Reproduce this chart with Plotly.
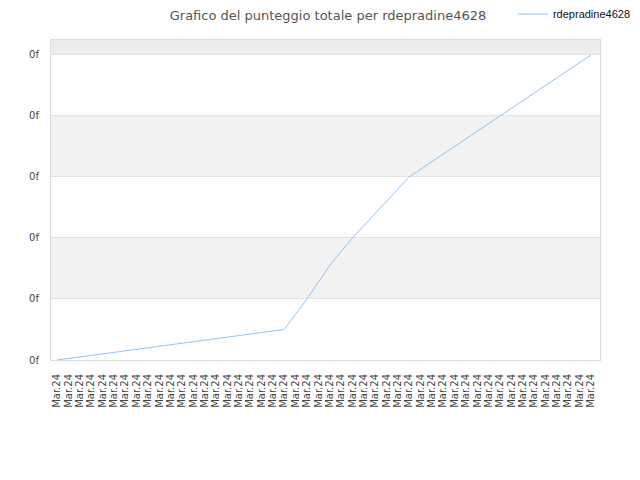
import plotly.graph_objects as go

# 48 points, all labelled with the same date
date_labels = ["Mar.24"] * 48
score = [0, 0.5, 1, 1.5, 2, 2.5, 3, 3.5, 4, 4.5,
         5, 5.5, 6, 6.5, 7, 7.5, 8, 8.5, 9, 9.5,
         10, 15, 20, 25.5, 31, 35.5, 40, 44, 48, 52,
         56, 60, 62.5, 65, 67.5, 70, 72.5, 75, 77.5, 80,
         82.5, 85, 87.5, 90, 92.5, 95, 97.5, 100]
y_ticks = [0, 20, 40, 60, 80, 100]
y_tick_text = ["0f"] * 6

x_idx = list(range(len(date_labels)))
y_top = 104.9

fig = go.Figure()
fig.add_trace(go.Scatter(
    x=x_idx, y=score, mode="lines", name="rdepradine4628",
    line=dict(color="#92c4f4", width=1),
))

# alternating background bands
for lo, hi, col in [(20, 40, "#f2f2f2"), (60, 80, "#f2f2f2"), (100, y_top, "#ececec")]:
    fig.add_shape(type="rect", xref="paper", yref="y", x0=0, x1=1, y0=lo, y1=hi,
                  fillcolor=col, line_width=0, layer="below")

# page body adds ~8px offset, margins compensate for it
fig.update_layout(
    width=640, height=480,
    margin=dict(l=43, r=48, t=32, b=128, autoexpand=False),
    paper_bgcolor="white", plot_bgcolor="white",
    font=dict(family="DejaVu Sans", size=10, color="#444"),
    title=dict(text="Grafico del punteggio totale per rdepradine4628",
               x=0.5, xanchor="center", y=0.995, yanchor="top",
               pad=dict(t=0, b=0),
               font=dict(size=13, color="#555")),
    showlegend=True,
    legend=dict(xref="container", yref="container", x=0.789, y=0.9875,
                xanchor="left", yanchor="middle",
                bgcolor="rgba(0,0,0,0)",
                font=dict(family="Liberation Sans", size=11, color="#111")),
)
fig.update_xaxes(
    range=[-0.53, 47.8], tickvals=x_idx, ticktext=date_labels, tickangle=-90,
    ticklabelstandoff=9,
    showgrid=False, zeroline=False, showline=True, mirror=True, automargin=False,
    linecolor="#dcdcdc", linewidth=1, ticks="", tickfont=dict(size=10, color="#444"),
)
fig.update_yaxes(
    range=[0, y_top], tickvals=y_ticks, ticktext=y_tick_text, ticklabelstandoff=9,
    showgrid=True, gridcolor="#e2e2e2", zeroline=False, showline=True, mirror=True,
    automargin=False,
    linecolor="#dcdcdc", linewidth=1, ticks="", tickfont=dict(size=10, color="#444"),
)

fig.write_html("out.html")
